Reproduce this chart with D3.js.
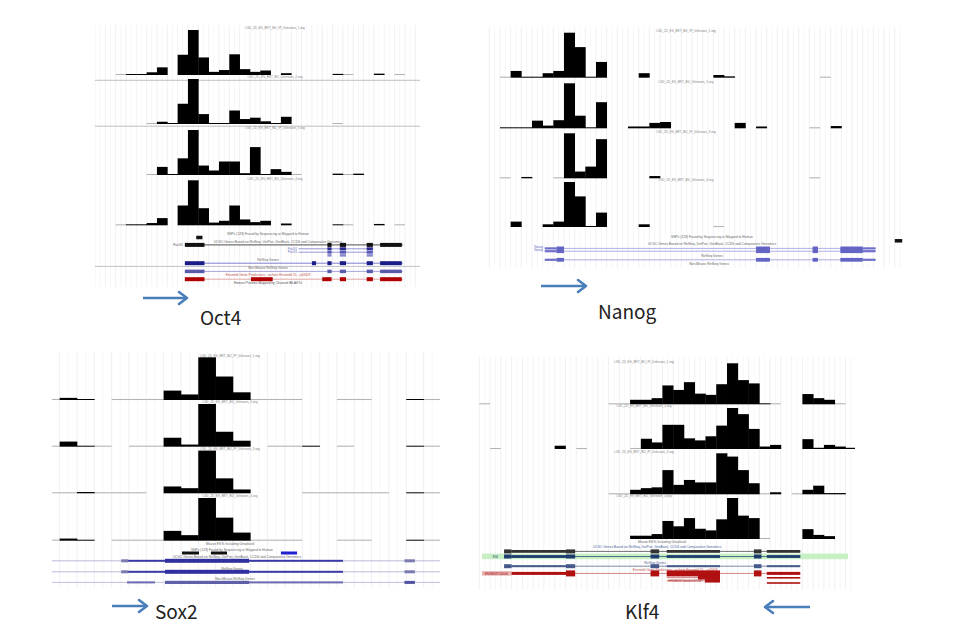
<!DOCTYPE html>
<html><head><meta charset="utf-8">
<script src="https://cdn.jsdelivr.net/npm/d3@7"></script>
<style>body{margin:0;background:#fff}svg{display:block}</style></head>
<body><svg id="c" width="969" height="643"></svg>
<script>
// ===================== DATA =====================
// Gene names (panel captions)
const geneNames = ["Oct4", "Nanog", "Sox2", "Klf4"];

// Coverage per genomic bin (relative read density, 0-100), four ChIP tracks per locus
const oct4T1 = [0,0,0,1.5,1.5,6,17,0,45,100,39,7,11,46,13,7,10,0,4,0,0,0,0,2.5,0,0,0,3,0,0,0];
const oct4T2 = [0,0,0,0,0,0,5,1,45,100,22,1,1,30,11,14,6,2,16,0,0,0,0,0,0,0,0,0,0,0,0];
const oct4T3 = [0,0,0,0,0,0,18,1,37,100,21,10,30,30,4,62,2,13,7,0,0,0,0,3,0,3,0,0,0,0,0];
const oct4T4 = [0,0,0,1.5,2,5,16,0,44,100,38,6,10,44,13,7,10,0,4,0,0,0,0,2,0,0,0,3,0,0,0];
const oct4Low = [[2,24,29],[5,23],[5,19,24],[2,24,29]];

const nanogT1 = [0,0,15,1,2,10,15,100,68,1,35,0,0,0,10,0,0,0,0,0,0,6,3,0,0,0,0,0,0,0,0,0,0,0,0,0,0,0,0];
const nanogT2 = [0,1,1,1,17,6,18,100,28,1,58,0,0,4,4,12,14,0,0,0,0,0,0,12,0,4,0,0,0,0,0,0,5,0,0,0,0,0,0];
const nanogT3 = [0,0,0,3,0,0,0,100,15,26,87,0,0,0,0,5,0,0,0,0,0,0,0,0,0,0,0,0,0,0,0,0,0,0,0,0,0,0,0];
const nanogT4 = [0,0,12,0,0,6,12,100,68,1,32,0,0,0,6,0,0,0,0,0,0,0,0,0,0,0,0,0,0,0,0,0,0,0,0,0,0,0,0];
const nanogLow = [[1,31],[30],[1,6,30],[21]];

const sox2T1 = [0,5,1,0,0,0,0,22,13,100,55,18,0,0,0,0,0,0,0,0,0,2,0];
const sox2T2 = [0,12,1,0,0,0,0,21,5,100,35,14,0,0,0,2,0,0,0,0,0,2,0];
const sox2T3 = [0,0,3,0,0,0,0,16,12,100,35,9,0,0,0,0,0,0,0,0,0,2,0];
const sox2T4 = [0,5,1,0,0,0,0,23,13,100,54,19,0,0,0,0,0,0,0,0,0,2,0];
const sox2Low = [[0,4,5,6,12,13,14,17,18,22],[0,3,5,6,13,14,17,22],[0,1,3,4,5,15,16,17,18,19,22],[0,4,5,6,12,13,14,17,18,22]];

const klf4T1 = [0,0,0,0,0,0,0,0,0,0,0,0,0,0,11,11,15,46,35,54,26,23,49,100,59,51,2,0,0,0,25,15,11,0,0];
const klf4T2 = [0,0,0,0,0,0,0,8,0,0,0,0,0,0,0,25,16,59,59,26,21,31,57,100,85,49,6,10,0,0,24,3,10,6,3];
const klf4T3 = [0,0,0,0,0,0,0,0,0,0,0,0,0,0,11,15,17,59,23,35,29,29,100,92,59,27,0,5,0,0,11,21,3,3,0];
const klf4T4 = [0,0,0,0,0,0,0,0,0,0,0,0,0,0,8,8,12,44,31,51,25,21,48,100,57,51,0,0,0,0,24,10,7,0,0];
const klf4Low = [[0,12,13,27,33],[1,9,14],[12,13,26,29],[26]];

// Track names
const trackNames = ["LSD_2D_ES_BRT_BU_IP_Unknown_1.wig","LSD_2D_ES_BRT_BU_Unknown_2.wig","LSD_2D_ES_BRT_BU_IP_Unknown_3.wig","LSD_2D_ES_BRT_BU_Unknown_4.wig"];
const annotTexts = ["SNPs (128) Found by Sequencing or Mapped to Human","UCSC Genes Based on RefSeq, UniProt, GenBank, CCDS and Comparative Genomics","RefSeq Genes","Non-Mouse RefSeq Genes","Ensembl Gene Predictions - archive Ensembl 55 - jul2009","Human Proteins Mapped by Chained tBLASTn","Mouse ESTs Including Unspliced"];

// Gene models (in bin coordinates)
const oct4Snp = [[9.8,10.4]];
const oct4Span = [8.7,29.8];
const oct4Exons = [[8.7,10.6],[22.5,22.9],[23.7,24.3],[26.3,26.9],[27.6,29.7]];
const oct4AltSpan = [19.7,26.9];
const oct4AltExons = [[22.5,22.9],[23.7,24.3],[26.3,26.9]];
const oct4RefExons = [[8.7,10.6],[21,21.4],[22.5,22.9],[23.7,24.3],[26.3,26.9],[27.6,29.7]];
const oct4EnsExons = [[8.7,10.6],[15.1,17.2],[22,22.9],[23.7,24.3],[26.3,26.9],[27.6,29.7]];

const nanogSnp = [[38,38.7]];
const nanogSpan = [5.2,36.2];
const nanogExons = [[6.3,7.0],[25,26.3],[30.3,30.8],[32.9,35]];
const nanogUtr = [[5.2,6.3],[35,36.2]];

const sox2SnpBlack = [[8.06,9.04],[9.73,10.66]];
const sox2SnpBlue = [[13.77,14.7]];
const sox2Transcript = [[4.95,17.35]];
const sox2Cds = [[7.08,11.93]];
const sox2Small = [[4.55,4.95],[20.9,21.5]];
const sox2NonMouse = [[4.89,6.5],[7.08,17.35]];

const klf4Span = [2.3,29.8];
const klf4Exons = [[2.3,3.0],[8.05,8.9],[15.9,16.7],[25.5,26.2]];
const klf4Thick = [[3.0,8.05],[17.4,22.35],[26.7,29.8]];
const klf4EnsBlocks = [[8.05,8.9],[15.9,16.7],[17.4,22.35],[25.5,26.2]];
const klf4EnsLines = [[3.0,8.05],[26.7,29.8]];
const klf4Ens2Span = [17.4,22.35];
const klf4Ens2Block = [[20.3,22.35]];
const klf4Ens3Block = [[20.95,22.35]];
const klf4Ens3Span = [26.7,29.8];

// ===================== LAYOUT =====================
const svg = d3.select('#c');
const TF = "'Liberation Sans', Arial, sans-serif";

const panels = [
  {id:'oct4', tracks:[oct4T1,oct4T2,oct4T3,oct4T4], low:oct4Low, nBins:31, x0:95, bw:10.33,
   left:95, right:420, top:25, bottom:287, baselines:[75,124,175,225.3], h:45, labelX:275, seps:[80.3,126.2]},
  {id:'nanog', tracks:[nanogT1,nanogT2,nanogT3,nanogT4], low:nanogLow, nBins:39, x0:489.3, bw:10.67,
   left:488, right:903, top:27, bottom:268, baselines:[77.7,128.3,178.3,227], h:45, labelX:686, seps:[]},
  {id:'sox2', tracks:[sox2T1,sox2T2,sox2T3,sox2T4], low:sox2Low, nBins:23, x0:42.3, bw:17.33,
   left:52, right:440, top:352, bottom:588, baselines:[400,446.7,493.3,540.7], h:42.7, labelX:230, seps:[]},
  {id:'klf4', tracks:[klf4T1,klf4T2,klf4T3,klf4T4], low:klf4Low, nBins:35, x0:479.3, bw:10.77,
   left:478, right:855, top:357, bottom:590, baselines:[404.3,449,494.3,539], h:41, labelX:644, seps:[]}
];

function txt(g, x, y, s, color, anchor, size) {
  return g.append('text').attr('x', x).attr('y', y).text(s)
    .attr('fill', color || '#666').attr('text-anchor', anchor || 'middle')
    .attr('font-size', size || 3.3).attr('font-family', TF);
}
function blocks(g, xs, y, arr, color, h) {
  g.selectAll(null).data(arr).join('rect')
    .attr('x', d => xs(d[0])).attr('width', d => Math.max(xs(d[1]) - xs(d[0]), 1))
    .attr('y', y - h / 2).attr('height', h).attr('fill', color);
}
function hline(g, xs, y, span, color, w) {
  g.append('line').attr('x1', xs(span[0])).attr('x2', xs(span[1]))
    .attr('y1', y).attr('y2', y).attr('stroke', color).attr('stroke-width', w || 0.8);
}

const ctx = {};
panels.forEach(p => {
  const xs = d3.scaleLinear().domain([0, p.nBins]).range([p.x0, p.x0 + p.nBins * p.bw]);
  const clipId = 'clip-' + p.id;
  svg.append('clipPath').attr('id', clipId).append('rect')
    .attr('x', p.left).attr('y', p.top).attr('width', p.right - p.left).attr('height', p.bottom - p.top);
  const g = svg.append('g').attr('clip-path', `url(#${clipId})`);
  // vertical grid
  const gx = d3.range(0, p.nBins + 1, 0.5).map(k => xs(k)).filter(x => x >= p.left - 0.1 && x <= p.right + 0.1);
  g.selectAll(null).data(gx).join('line')
    .attr('x1', d => d).attr('x2', d => d).attr('y1', p.top).attr('y2', p.bottom)
    .attr('stroke', (d, i) => i % 2 ? '#f3f3f7' : '#eaeaf0').attr('stroke-width', 0.7);
  p.seps.forEach(y => g.append('line').attr('x1', p.left).attr('x2', p.right).attr('y1', y).attr('y2', y)
    .attr('stroke', '#b0b0b0').attr('stroke-width', 0.8));
  p.tracks.forEach((vals, i) => {
    const base = p.baselines[i];
    const ys = d3.scaleLinear().domain([0, 100]).range([base, base - p.h]);
    g.selectAll(null).data(p.low[i]).join('line')
      .attr('x1', k => xs(k)).attr('x2', k => xs(k + 1))
      .attr('y1', base - 0.5).attr('y2', base - 0.5)
      .attr('stroke', '#b4b4b4').attr('stroke-width', 1.1);
    const bars = vals.map((v, k) => ({k, v})).filter(d => d.v > 0);
    g.selectAll(null).data(bars).join('rect')
      .attr('x', d => xs(d.k)).attr('width', d => xs(d.k + 1) - xs(d.k) + 0.35)
      .attr('y', d => Math.min(ys(d.v), base - 1)).attr('height', d => Math.max(base - ys(d.v), 1))
      .attr('fill', '#000');
    txt(g, p.labelX, base - p.h - 0.6, trackNames[i], '#888', 'middle', 3.1);
  });
  ctx[p.id] = {g, xs, p};
});

// ---------- Oct4 annotations ----------
(function() {
  const {g, xs} = ctx.oct4;
  txt(g, 268, 235, annotTexts[0]);
  blocks(g, xs, 237.5, oct4Snp, '#111', 3.5);
  txt(g, 278, 242.6, annotTexts[1]);
  hline(g, xs, 244.9, oct4Span, '#222', 0.8);
  blocks(g, xs, 244.9, oct4Exons, '#111', 4);
  txt(g, 183, 246, 'Pou5f1', '#555', 'end', 3.1);
  hline(g, xs, 248.8, oct4AltSpan, '#6a6ac0', 0.7);
  blocks(g, xs, 248.8, oct4AltExons, '#2a2a90', 3);
  txt(g, 297, 249.8, 'Pou5f1', '#6a6ac0', 'end', 2.9);
  hline(g, xs, 252.2, oct4AltSpan, '#6a6ac0', 0.7);
  blocks(g, xs, 252.2, oct4AltExons, '#5a5ab8', 3);
  txt(g, 297, 253.2, 'Pou5f1', '#6a6ac0', 'end', 2.9);
  blocks(g, xs, 255.4, oct4AltExons, '#8a8acc', 2.5);
  txt(g, 268, 260.6, annotTexts[2]);
  hline(g, xs, 263.2, oct4Span, '#6060c0', 0.8);
  blocks(g, xs, 263.2, oct4RefExons, '#1c1c88', 4);
  g.append('line').attr('x1', 95).attr('x2', 420).attr('y1', 266.4).attr('y2', 266.4).attr('stroke', '#b0b0b8').attr('stroke-width', 0.8);
  txt(g, 268, 268.7, annotTexts[3]);
  hline(g, xs, 271.4, oct4Span, '#9090d0', 0.8);
  blocks(g, xs, 271.4, oct4Exons, '#5a5aaa', 3.5);
  txt(g, 268, 276.2, annotTexts[4], '#c05050');
  hline(g, xs, 279.2, oct4Span, '#d89090', 0.8);
  blocks(g, xs, 279.2, oct4EnsExons, '#b00000', 4);
  txt(g, 268, 284, annotTexts[5], '#555');
})();

// ---------- Nanog annotations ----------
(function() {
  const {g, xs} = ctx.nanog;
  txt(g, 712, 238.2, annotTexts[0]);
  blocks(g, xs, 240.8, nanogSnp, '#111', 3.5);
  txt(g, 712, 245.3, annotTexts[1]);
  [248.4, 251.2, 259.8].forEach((y, i) => {
    hline(g, xs, y, nanogSpan, '#9a9ae0', 0.8);
    blocks(g, xs, y, nanogUtr, '#7070cc', 2.2);
    blocks(g, xs, y, nanogExons, '#6464c4', 3.8);
  });
  txt(g, 543, 248, 'Nanog', '#6a6ac0', 'end', 3);
  txt(g, 543, 251.2, 'Nanog', '#6a6ac0', 'end', 3);
  txt(g, 712, 256.6, annotTexts[2]);
  txt(g, 709, 265.2, annotTexts[3]);
})();

// ---------- Sox2 annotations ----------
(function() {
  const {g, xs} = ctx.sox2;
  txt(g, 230, 545, annotTexts[6]);
  txt(g, 232, 550.6, annotTexts[0]);
  blocks(g, xs, 553, sox2SnpBlack, '#111', 3);
  blocks(g, xs, 553, sox2SnpBlue, '#2020d0', 3);
  txt(g, 237, 558.4, annotTexts[1]);
  [560.8, 571.8].forEach(y => {
    g.append('line').attr('x1', 52).attr('x2', 440).attr('y1', y).attr('y2', y).attr('stroke', '#a8a8d0').attr('stroke-width', 0.8);
    blocks(g, xs, y, sox2Transcript, '#3a3aa8', 2);
    blocks(g, xs, y, sox2Cds, '#3030a0', 4);
    blocks(g, xs, y, sox2Small, '#7a7ab0', 3);
  });
  txt(g, 232, 569.6, annotTexts[2]);
  txt(g, 235, 580, annotTexts[3]);
  g.append('line').attr('x1', 52).attr('x2', 440).attr('y1', 582.4).attr('y2', 582.4).attr('stroke', '#b0b0d8').attr('stroke-width', 0.8);
  blocks(g, xs, 582.4, sox2NonMouse, '#6a6ab0', 2);
  blocks(g, xs, 582.4, sox2Cds, '#6060a8', 3.2);
  blocks(g, xs, 582.4, [sox2Small[1]], '#5050a0', 3);
})();

// ---------- Klf4 annotations ----------
(function() {
  const {g, xs} = ctx.klf4;
  txt(g, 662, 543.3, annotTexts[6]);
  txt(g, 657, 548, annotTexts[1], '#4a5f9a');
  g.append('rect').attr('x', 482).attr('y', 553.6).attr('width', 366).attr('height', 5.6).attr('fill', '#c6f0c4');
  const rows = [[551.4, '#333333'], [556.5, '#1f3a70'], [566.2, '#45598a']];
  rows.forEach(([y, c], i) => {
    hline(g, xs, y, klf4Span, c, 0.7);
    blocks(g, xs, y, klf4Thick, c, i === 2 ? 2 : 2.8);
    blocks(g, xs, y, klf4Exons, c, 4);
  });
  txt(g, 498, 557.6, 'Klf4', '#1f3a70', 'end', 3);
  txt(g, 655, 564, annotTexts[2], '#4a5f9a');
  txt(g, 675, 570.6, annotTexts[4], '#c05050');
  hline(g, xs, 573.4, klf4Span, '#c05050', 0.7);
  g.append('rect').attr('x', xs(0.25)).attr('y', 571.2).attr('width', xs(3.0) - xs(0.25)).attr('height', 4.4).attr('fill', '#e8b0b0');
  txt(g, xs(1.6), 574.6, 'ENSMUST00000', '#a01010', 'middle', 3);
  blocks(g, xs, 573.4, klf4EnsLines, '#b01010', 3);
  blocks(g, xs, 573.4, klf4EnsBlocks, '#b01010', 6);
  hline(g, xs, 577.6, klf4Ens2Span, '#c05050', 0.7);
  blocks(g, xs, 577.6, klf4Ens2Block, '#b01010', 4);
  hline(g, xs, 580.8, klf4Ens2Span, '#c05050', 0.7);
  blocks(g, xs, 580.8, klf4Ens3Block, '#b01010', 3.5);
  blocks(g, xs, 577.8, [klf4Ens3Span], '#b01010', 1.6);
  blocks(g, xs, 583, [klf4Ens3Span], '#b01010', 1.6);
  txt(g, 685, 582, 'ENSMUST00000107619', '#a01010', 'middle', 3);
})();

// ---------- Captions & arrows ----------
const capLayout = [
  {x:200, y:325, ax1:143, ax2:187, ay:298},
  {x:598, y:319, ax1:541, ax2:586, ay:286},
  {x:155, y:619, ax1:112, ax2:147, ay:606},
  {x:625, y:619, ax1:810, ax2:765, ay:607}
];
capLayout.forEach((c, i) => {
  svg.append('text').attr('x', c.x).attr('y', c.y).text(geneNames[i])
    .attr('font-family', "'Noto Sans CJK KR','Noto Sans',sans-serif").attr('font-size', 19).attr('fill', '#222');
  const dir = c.ax2 > c.ax1 ? 1 : -1;
  svg.append('line').attr('x1', c.ax1).attr('x2', c.ax2 - dir * 1).attr('y1', c.ay).attr('y2', c.ay)
    .attr('stroke', '#4a7ebb').attr('stroke-width', 2.6);
  svg.append('path').attr('d', `M${c.ax2 - dir * 8},${c.ay - 6}L${c.ax2},${c.ay}L${c.ax2 - dir * 8},${c.ay + 6}`)
    .attr('fill', 'none').attr('stroke', '#4a7ebb').attr('stroke-width', 2.6).attr('stroke-linejoin', 'round').attr('stroke-linecap', 'round');
});
</script>
</body></html>
